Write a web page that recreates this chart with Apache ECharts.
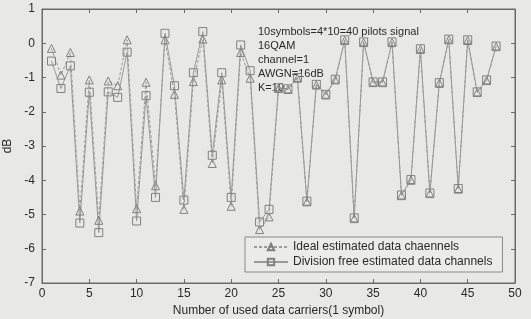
<!DOCTYPE html>
<html>
<head>
<meta charset="utf-8">
<script src="https://cdn.jsdelivr.net/npm/echarts@6/dist/echarts.min.js"></script>
<style>
  html, body { margin: 0; padding: 0; background: #e8e8e6; }
  #chart { width: 531px; height: 319px; }
</style>
</head>
<body>
<div id="chart"></div>
<script>
var carriers = [1,2,3,4,5,6,7,8,9,10,11,12,13,14,15,16,17,18,19,20,21,22,23,24,
                25,26,27,28,29,30,31,32,33,34,35,36,37,38,39,40,41,42,43,44,45,46,47,48];
// ideal estimated (triangles, dashed)
var ideal = [-0.15,-0.93,-0.27,-4.9,-1.07,-5.17,-1.1,-1.24,0.1,-4.83,-1.14,-4.16,0.1,-1.49,-4.85,-1.12,
             0.12,-3.51,-1.07,-4.76,-0.27,-1.02,-5.44,-5.07,-1.32,-1.35,-1.02,-4.63,-1.22,-1.51,-1.07,0.08,
             -5.12,0.02,-1.15,-1.15,0.02,-4.45,-4.0,-0.18,-4.39,-1.17,0.1,-4.26,0.08,-1.44,-1.09,-0.1];
// division free estimated (squares, solid)
var divFree = [-0.52,-1.32,-0.66,-5.25,-1.43,-5.53,-1.42,-1.58,-0.26,-5.19,-1.53,-4.5,0.29,-1.24,-4.58,-0.86,
               0.34,-3.27,-0.86,-4.5,-0.05,-0.8,-5.22,-4.85,-1.3,-1.33,-1.0,-4.61,-1.2,-1.49,-1.05,0.1,
               -5.1,0.04,-1.13,-1.13,0.04,-4.43,-3.98,-0.16,-4.37,-1.15,0.12,-4.24,0.1,-1.42,-1.07,-0.08];
var notes = ['10symbols=4*10=40 pilots signal', '16QAM', 'channel=1', 'AWGN=16dB', 'K=10'];

var font = 'Liberation Sans, Arial, sans-serif';
var axisCol = '#6a6a6a';

var pairs = function (ys) {
    var out = [];
    for (var i = 0; i < carriers.length; i++) {
        out.push([carriers[i], ys[i]]);
    }
    return out;
};

var tickStyle = { inside: true, length: 4, lineStyle: { color: axisCol } };
var lineOpt = { onZero: false, lineStyle: { color: axisCol } };

var option = {
    animation: false,
    backgroundColor: '#e8e8e6',
    textStyle: { fontFamily: font },
    grid: {
        left: 42, right: 16, top: 9, bottom: 36,
        outerBoundsMode: 'none', containLabel: false,
        show: true, borderColor: axisCol, borderWidth: 1
    },
    xAxis: [{
        type: 'value', min: 0, max: 50, interval: 5,
        name: 'Number of used data carriers(1 symbol)',
        nameLocation: 'middle', nameGap: 18,
        nameTextStyle: { color: '#2a2a2a', fontSize: 12, fontFamily: font },
        axisLine: lineOpt,
        axisTick: tickStyle,
        axisLabel: { color: '#2a2a2a', fontSize: 12, fontFamily: font, margin: 5 },
        splitLine: { show: false }
    }, {
        type: 'value', min: 0, max: 50, interval: 5, position: 'top',
        axisLine: lineOpt,
        axisTick: tickStyle,
        axisLabel: { show: false },
        splitLine: { show: false }
    }],
    yAxis: [{
        type: 'value', min: -7, max: 1, interval: 1,
        name: 'dB', nameLocation: 'middle', nameGap: 22,
        nameTextStyle: { color: '#2a2a2a', fontSize: 12, fontFamily: font },
        axisLine: lineOpt,
        axisTick: tickStyle,
        axisLabel: { color: '#2a2a2a', fontSize: 12, fontFamily: font, margin: 7 },
        splitLine: { show: false }
    }, {
        type: 'value', min: -7, max: 1, interval: 1, position: 'right',
        axisLine: lineOpt,
        axisTick: tickStyle,
        axisLabel: { show: false },
        splitLine: { show: false }
    }],
    legend: {
        orient: 'vertical',
        left: 245, top: 237,
        width: 262,
        padding: [4, 10, 4, 8],
        itemGap: 3,
        itemWidth: 34, itemHeight: 8,
        borderColor: '#888', borderWidth: 1,
        backgroundColor: '#ebebe9',
        textStyle: { color: '#2a2a2a', fontSize: 12, fontFamily: font },
        data: ['Ideal estimated data chaennels', 'Division free estimated data channels']
    },
    graphic: notes.map(function (t, i) {
        return {
            type: 'text', left: 258, top: 26 + i * 14,
            style: { text: t, fill: '#2a2a2a', font: '11px ' + font }
        };
    }),
    series: [{
        name: 'Ideal estimated data chaennels',
        type: 'line',
        data: pairs(ideal),
        symbol: 'triangle', symbolSize: 8,
        itemStyle: { color: 'rgba(0,0,0,0)', borderColor: '#808080', borderWidth: 1 },
        lineStyle: { color: '#9a9a9a', width: 1, type: [3, 2] }
    }, {
        name: 'Division free estimated data channels',
        type: 'line',
        data: pairs(divFree),
        symbol: 'rect', symbolSize: 8,
        itemStyle: { color: 'rgba(0,0,0,0)', borderColor: '#808080', borderWidth: 1 },
        lineStyle: { color: '#999', width: 1 }
    }]
};

var chart = echarts.init(document.getElementById('chart'));
chart.setOption(option);
</script>
</body>
</html>
